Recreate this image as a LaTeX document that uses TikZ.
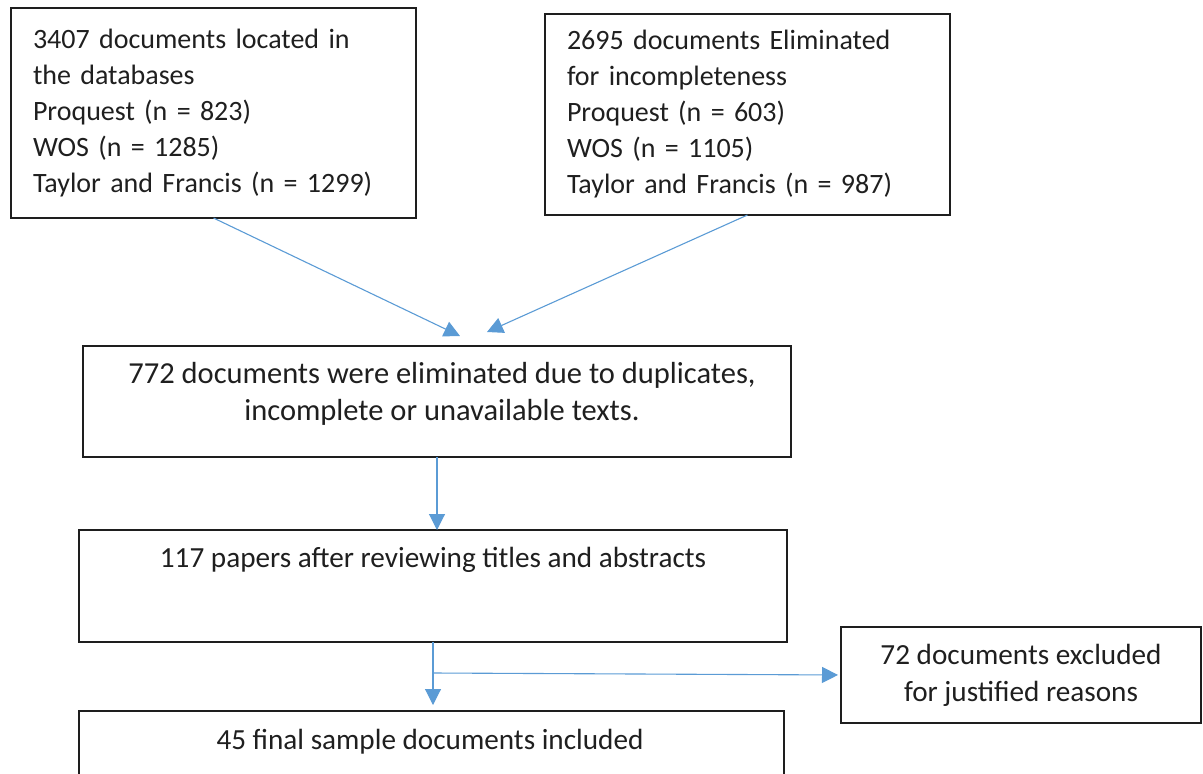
\documentclass[tikz,border=0pt]{standalone}
\usepackage{fontspec}
\setmainfont{Carlito}
\usetikzlibrary{arrows.meta,positioning}
\definecolor{arrowblue}{RGB}{91,155,213}
\definecolor{boxline}{RGB}{30,30,30}
\begin{document}
\begin{tikzpicture}[x=1pt,y=-1pt,
	box/.style={draw=boxline, line width=1.3pt, inner sep=0pt, outer sep=0pt, anchor=north west},
	txt/.style={font=\fontsize{28}{36}\selectfont, text=black!88},
	midtxt/.style={font=\fontsize{29.2}{37}\selectfont, text=black!88, align=center},
	flow/.style={draw=arrowblue, line width=1.1pt, -{Triangle[length=16pt,width=16pt]}, arrowblue}]
	\clip (0,0) rectangle (1203,774);
	\node[box, txt, minimum width=405pt, minimum height=210pt, text width=361pt, inner xsep=22pt, align=left] (found) at (11,8)
		{3407 documents located in\\ the databases\\ Proquest (n = 823)\\ WOS (n = 1285)\\ Taylor and Francis (n = 1299)};
	\node[box, txt, minimum width=405pt, minimum height=201pt, text width=361pt, inner xsep=22pt, align=left] (removed) at (545,14)
		{2695 documents Eliminated\\ for incompleteness\\ Proquest (n = 603)\\ WOS (n = 1105)\\ Taylor and Francis (n = 987)};
	\node[box, minimum width=708pt, minimum height=111pt] (merge) at (83,346) {};
	\node[midtxt, font=\fontsize{30.5}{37}\selectfont] (mergetext) at (442,394) {772 documents were eliminated due to duplicates,\\ incomplete or unavailable texts.};
	\node[box, minimum width=708pt, minimum height=112pt] (screen) at (79,530) {};
	\node[midtxt] (screentext) at (433,560) {117 papers after reviewing titles and abstracts};
	\node[box, midtxt, minimum width=360pt, minimum height=96pt] (excluded) at (841,627)
		{72 documents excluded\\ for justified reasons};
	\node[box, minimum width=705pt, minimum height=120pt] (final) at (79,711) {};
	\node[midtxt] (finaltext) at (430,742) {45 final sample documents included};
	\draw[flow] (found.south) -- ([xshift=23pt,yshift=10pt]merge.north);
	\draw[flow] (removed.south) -- ([xshift=50pt,yshift=14pt]merge.north);
	\draw[flow] (merge.south) -- (merge.south |- screen.north);
	\draw[flow, shorten >=6pt] (screen.south) -- (screen.south |- final.north);
	\draw[flow, shorten >=3pt] ([yshift=-31pt]screen.south) -- (excluded.west);
\end{tikzpicture}
\end{document}
